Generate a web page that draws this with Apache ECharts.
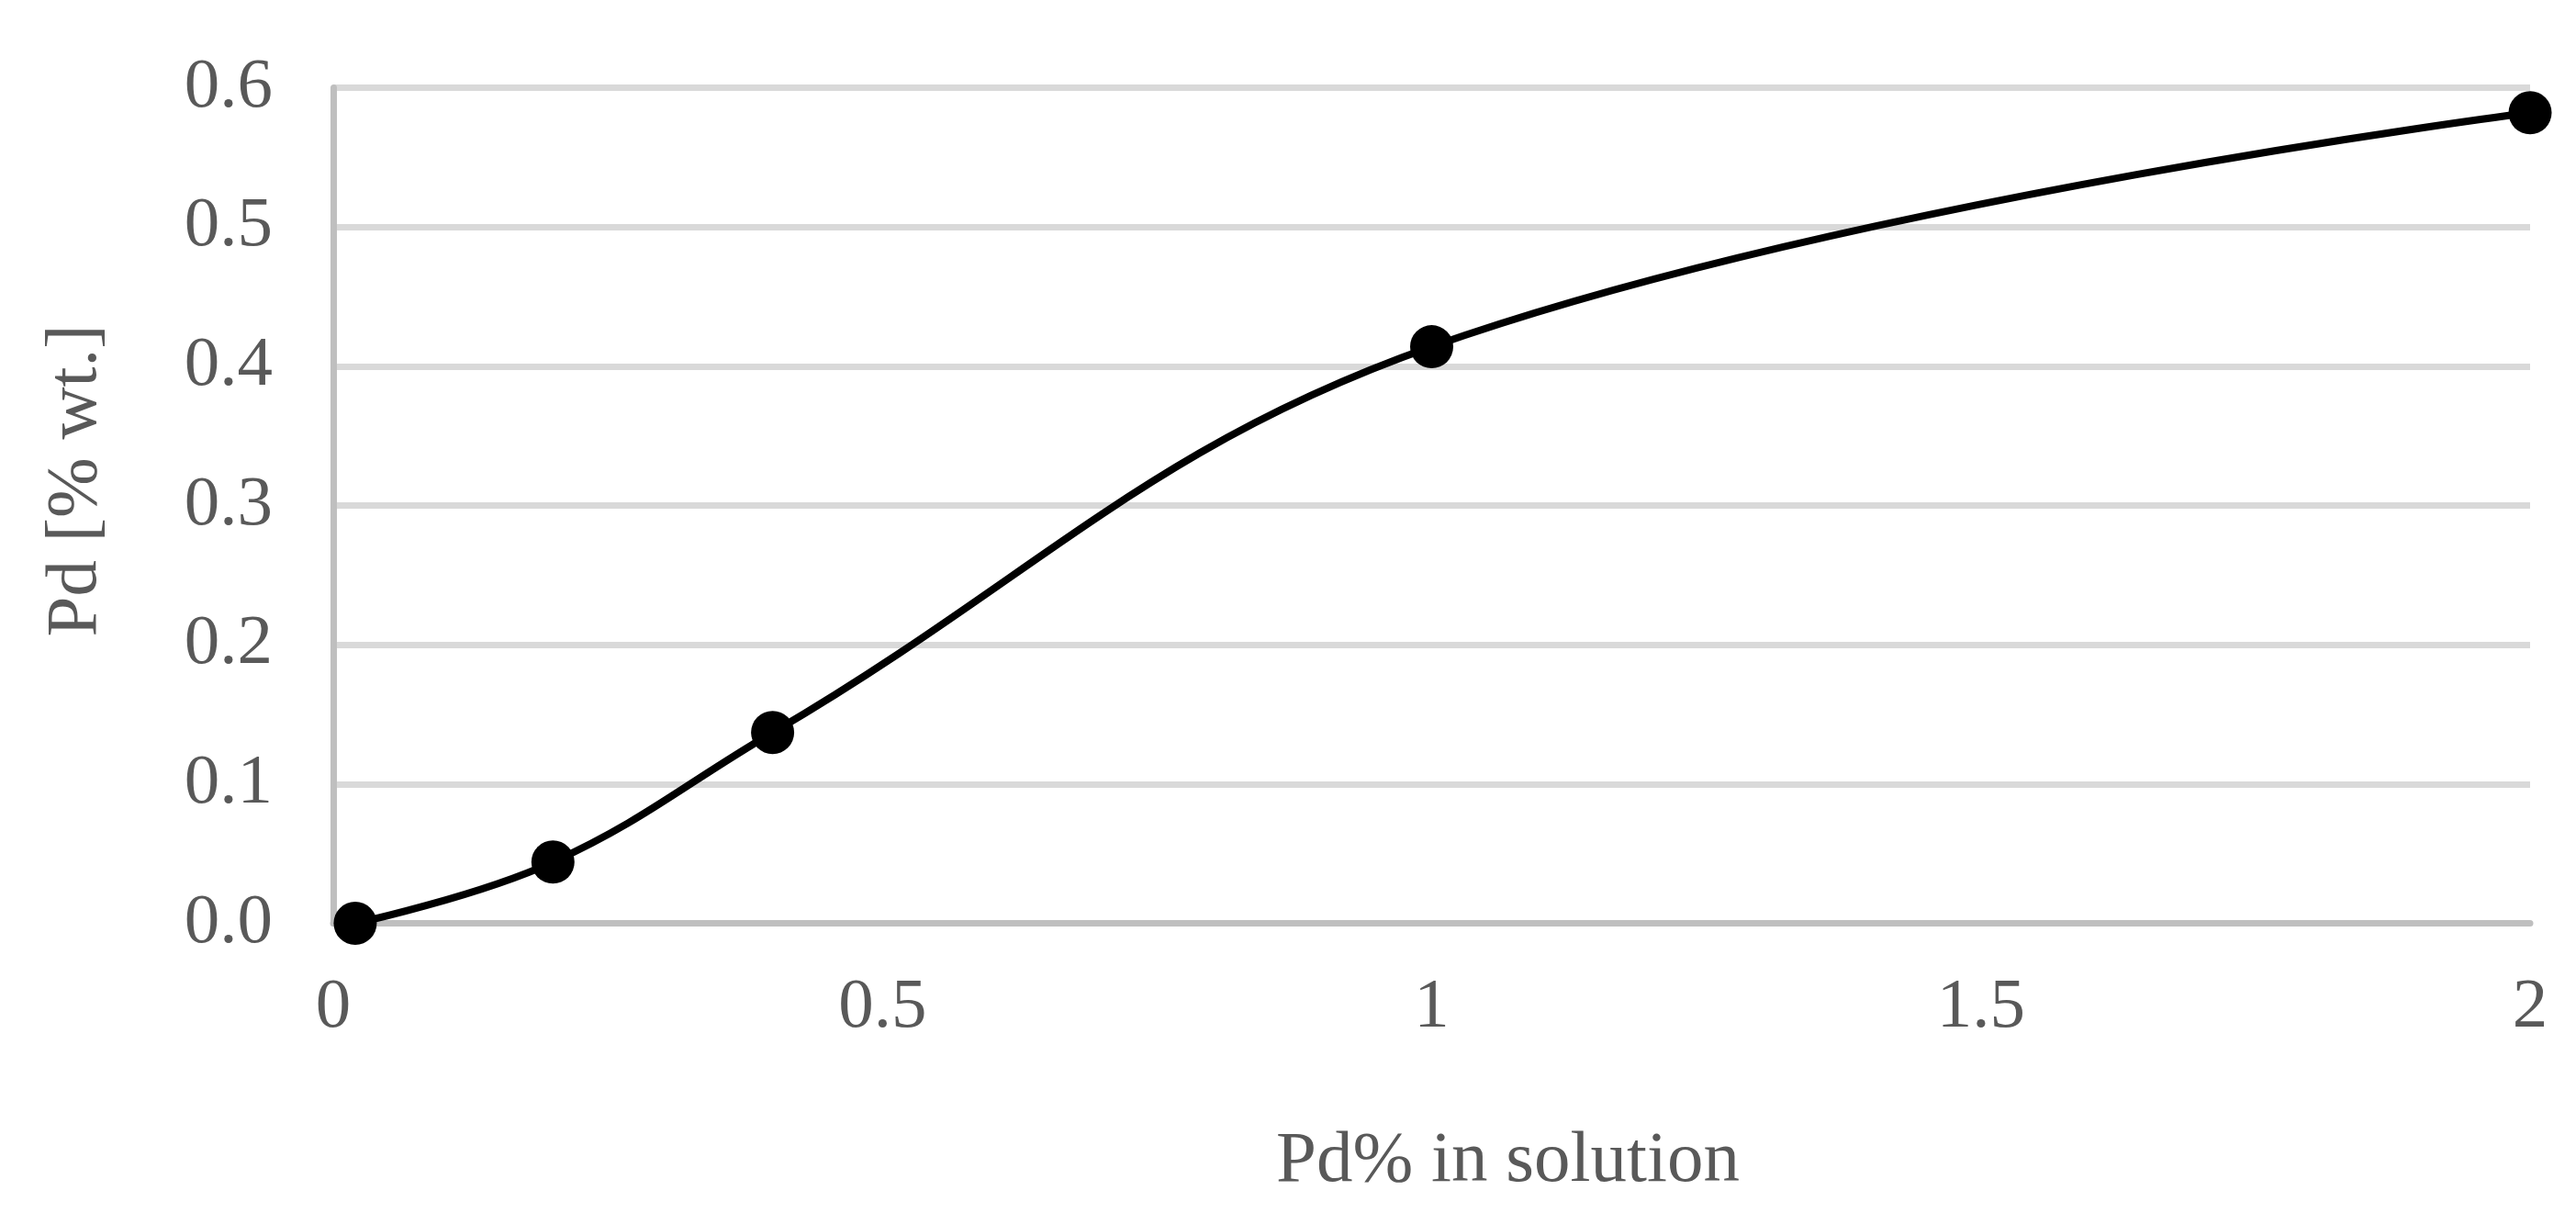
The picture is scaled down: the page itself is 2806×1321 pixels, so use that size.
<!DOCTYPE html>
<html>
<head>
<meta charset="utf-8">
<script src="https://cdn.jsdelivr.net/npm/echarts@6/dist/echarts.min.js"></script>
<style>
  html, body { margin: 0; padding: 0; background: #fff; }
  #chart { width: 2806px; height: 1321px; }
</style>
</head>
<body>
<div id="chart"></div>
<script>
// data
const pdInSolution = [0.02, 0.2, 0.4, 1.0, 2.0];
const pdWeight = [0.0, 0.044, 0.137, 0.414, 0.582];
const xTitle = 'Pd% in solution';
const yTitle = 'Pd [% wt.]';

const points = pdInSolution.map((x, i) => [x, pdWeight[i]]);

const chart = echarts.init(document.getElementById('chart'));

const serif = '"Liberation Serif", "Times New Roman", serif';
const tickFont = { fontFamily: serif, fontSize: 77, color: '#595959' };
const titleFont = { fontFamily: serif, fontSize: 79, color: '#595959' };

chart.setOption({
  backgroundColor: '#ffffff',
  animation: false,
  grid: { left: 363, right: 50, top: 95.5, bottom: 315.5 },
  xAxis: {
    type: 'value',
    min: 0,
    max: 2,
    interval: 0.5,
    name: xTitle,
    nameLocation: 'middle',
    nameGap: 220,
    // title sits a bit right of the plot centre in the original
    nameTextStyle: Object.assign({ padding: [0, 0, 0, 166] }, titleFont),
    axisLine: { show: true, onZero: false, lineStyle: { color: '#BFBFBF', width: 7 } },
    axisTick: { show: false },
    splitLine: { show: false },
    axisLabel: Object.assign({ margin: 54 }, tickFont)
  },
  yAxis: {
    type: 'value',
    min: 0,
    max: 0.6,
    interval: 0.1,
    name: yTitle,
    nameLocation: 'middle',
    nameGap: 240,
    nameTextStyle: Object.assign({ padding: [0, 0, 0, 54] }, titleFont),
    axisLine: { show: true, lineStyle: { color: '#BFBFBF', width: 7 } },
    axisTick: { show: false },
    splitLine: { show: true, lineStyle: { color: '#D9D9D9', width: 7 } },
    axisLabel: Object.assign({
      margin: 66,
      formatter: v => v.toFixed(1)
    }, tickFont)
  },
  series: [{
    type: 'line',
    data: points,
    smooth: 0.4,
    symbol: 'circle',
    symbolSize: 47,
    lineStyle: { color: '#000', width: 8 },
    itemStyle: { color: '#000' },
    z: 5
  }]
});
</script>
</body>
</html>
